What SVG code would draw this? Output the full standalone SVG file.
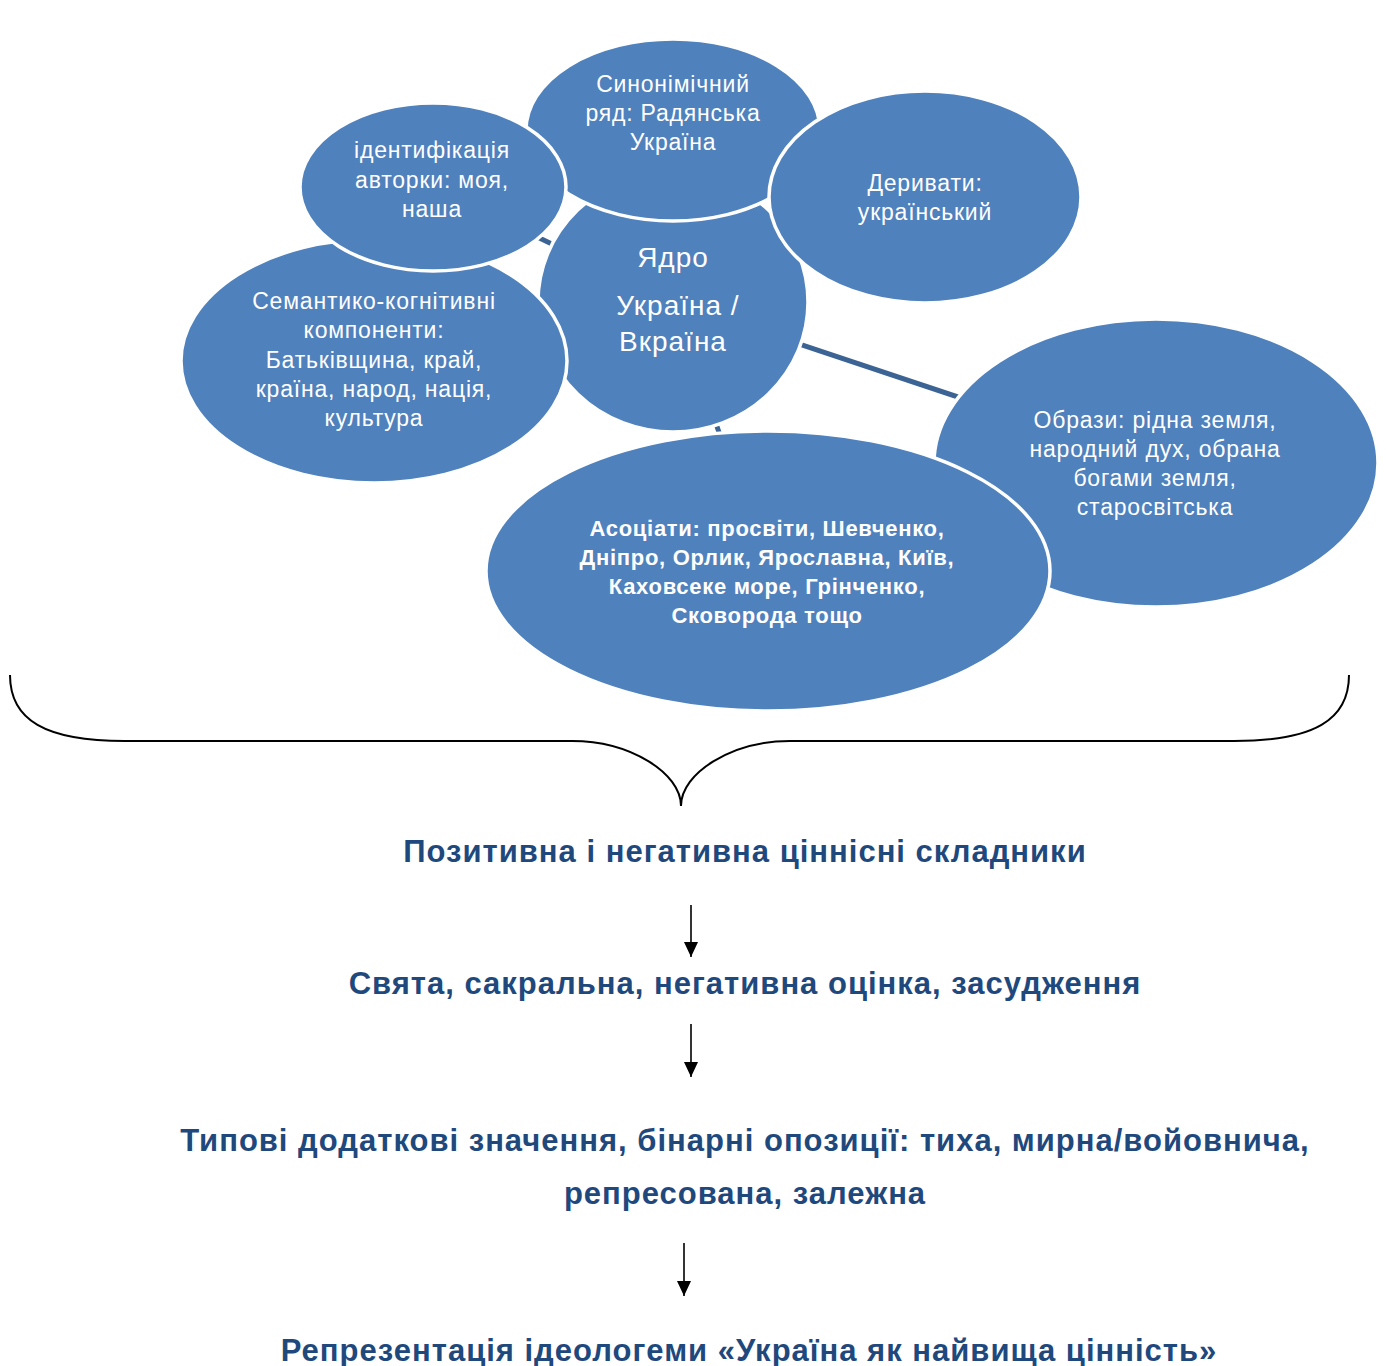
<svg xmlns="http://www.w3.org/2000/svg" width="1386" height="1366" viewBox="0 0 1386 1366">
<defs>
<style>
.node{fill:#4F81BD;stroke:#FFFFFF;stroke-width:3.5}
.t{font-family:"Liberation Sans",Arial,sans-serif;font-size:23px;letter-spacing:0.8px;fill:#FFFFFF;text-anchor:middle}
.tb{font-family:"Liberation Sans",Arial,sans-serif;font-size:22px;letter-spacing:0.7px;font-weight:bold;fill:#FFFFFF;text-anchor:middle}
.tc{font-family:"Liberation Sans",Arial,sans-serif;font-size:28px;letter-spacing:1px;fill:#FFFFFF;text-anchor:middle}
.conn{stroke:#3B6495;stroke-width:5;fill:none}
.cap{font-family:"Liberation Sans",Arial,sans-serif;font-size:31px;letter-spacing:1px;font-weight:bold;fill:#1F497D;text-anchor:middle}
.arr{stroke:#000000;stroke-width:1.6;fill:none}
</style>
<marker id="ah" viewBox="0 0 15 14" refX="15" refY="7" markerWidth="15" markerHeight="14" markerUnits="userSpaceOnUse" orient="auto">
<path d="M0,0 L15,7 L0,14 Z" fill="#000000"/>
</marker>
</defs>
<rect width="1386" height="1366" fill="#FFFFFF"/>

<g id="connectors">
<line class="conn" x1="673" y1="302" x2="433" y2="187"/>
<line class="conn" x1="673" y1="302" x2="1156" y2="463"/>
<line class="conn" x1="673" y1="302" x2="768" y2="571"/>
</g>

<g id="node-core">
<ellipse class="node" cx="673" cy="302" rx="135" ry="130"/>
<text class="tc" x="673" y="267">Ядро</text>
<text class="tc" x="678" y="315">Україна /</text>
<text class="tc" x="673" y="351">Вкраїна</text>
</g>

<g id="node-semantic">
<ellipse class="node" cx="374" cy="361" rx="193" ry="122"/>
<text class="t" x="374" y="309">Семантико-когнітивні</text>
<text class="t" x="374" y="338">компоненти:</text>
<text class="t" x="374" y="368">Батьківщина, край,</text>
<text class="t" x="374" y="397">країна, народ, нація,</text>
<text class="t" x="374" y="426">культура</text>
</g>

<g id="node-synonym">
<ellipse class="node" cx="673" cy="130" rx="147" ry="91"/>
<text class="t" x="673" y="92">Синонімічний</text>
<text class="t" x="673" y="121">ряд: Радянська</text>
<text class="t" x="673" y="150">Україна</text>
</g>

<g id="node-identification">
<ellipse class="node" cx="433" cy="187" rx="133" ry="84"/>
<text class="t" x="432" y="158">ідентифікація</text>
<text class="t" x="432" y="188">авторки: моя,</text>
<text class="t" x="432" y="217">наша</text>
</g>

<g id="node-derivatives">
<ellipse class="node" cx="925" cy="197" rx="156" ry="106"/>
<text class="t" x="925" y="191">Деривати:</text>
<text class="t" x="925" y="220">український</text>
</g>

<g id="node-images">
<ellipse class="node" cx="1156" cy="463" rx="222" ry="144"/>
<text class="t" x="1155" y="428">Образи: рідна земля,</text>
<text class="t" x="1155" y="457">народний дух, обрана</text>
<text class="t" x="1155" y="486">богами земля,</text>
<text class="t" x="1155" y="515">старосвітська</text>
</g>

<g id="node-associates">
<ellipse class="node" cx="768" cy="571" rx="282" ry="140"/>
<text class="tb" x="767" y="536">Асоціати: просвіти, Шевченко,</text>
<text class="tb" x="767" y="565">Дніпро, Орлик, Ярославна, Київ,</text>
<text class="tb" x="767" y="594">Каховсеке море, Грінченко,</text>
<text class="tb" x="767" y="623">Сковорода тощо</text>
</g>

<g id="brace">
<path d="M10,675 C10,720 45,741 125,741 L572,741 C630,741 681,773 681,806 C681,773 732,741 790,741 L1234,741 C1314,741 1349,720 1349,675" fill="none" stroke="#000000" stroke-width="2"/>
</g>

<g id="value-components">
<text class="cap" x="745" y="862">Позитивна і негативна ціннісні складники</text>
</g>
<g id="evaluation">
<text class="cap" x="745" y="994">Свята, сакральна, негативна оцінка, засудження</text>
</g>
<g id="connotations">
<text class="cap" x="745" y="1151">Типові додаткові значення, бінарні опозиції: тиха, мирна/войовнича,</text>
<text class="cap" x="745" y="1204">репресована, залежна</text>
</g>
<g id="representation">
<text class="cap" x="749" y="1361">Репрезентація ідеологеми «Україна як найвища цінність»</text>
</g>

<g id="arrows">
<line class="arr" x1="691" y1="905" x2="691" y2="957" marker-end="url(#ah)"/>
<line class="arr" x1="691" y1="1024" x2="691" y2="1077" marker-end="url(#ah)"/>
<line class="arr" x1="684" y1="1243" x2="684" y2="1296" marker-end="url(#ah)"/>
</g>
</svg>
